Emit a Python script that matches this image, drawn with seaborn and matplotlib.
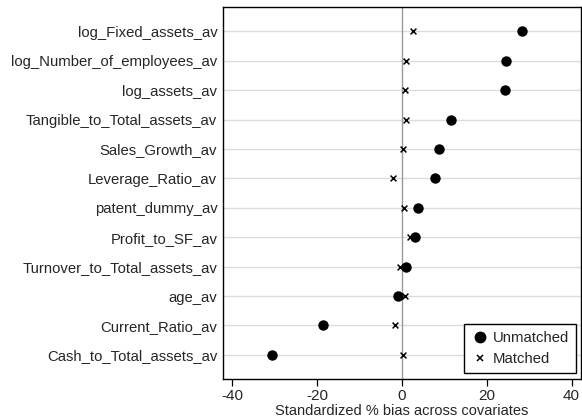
import pandas as pd
import matplotlib
matplotlib.use("Agg")
import matplotlib.pyplot as plt
from matplotlib.lines import Line2D
import seaborn as sns

# covariates, top to bottom
variables = ["log_Fixed_assets_av", "log_Number_of_employees_av", "log_assets_av",
             "Tangible_to_Total_assets_av", "Sales_Growth_av", "Leverage_Ratio_av",
             "patent_dummy_av", "Profit_to_SF_av", "Turnover_to_Total_assets_av",
             "age_av", "Current_Ratio_av", "Cash_to_Total_assets_av"]

# standardized % bias
unmatched = [28.3, 24.5, 24.2, 11.6, 8.8, 7.8, 3.8, 3.1, 1.0, -0.8, -18.7, -30.7]
matched = [2.7, 0.9, 0.8, 0.9, 0.2, -2.1, 0.5, 1.9, -0.5, 0.7, -1.6, 0.2]

xticks = [-40, -20, 0, 20, 40]

df = pd.DataFrame({"variable": variables, "Unmatched": unmatched, "Matched": matched})

sns.set_style("white")
plt.rcParams["font.family"] = ["Liberation Sans", "DejaVu Sans"]

fig = plt.figure(figsize=(5.82, 4.17), dpi=100)
ax = fig.add_axes([0.383, 0.091, 0.615, 0.892])

# grid lines for each covariate
for i in range(len(variables)):
    ax.axhline(i, color="#dcdcdc", lw=1.0, zorder=0)
ax.axvline(0, color="#9a9a9a", lw=1.0, zorder=1)

sns.stripplot(data=df, x="Unmatched", y="variable", jitter=False, color="black",
              marker="o", size=7.5, linewidth=0, ax=ax, zorder=3)
sns.stripplot(data=df, x="Matched", y="variable", jitter=False, color="black",
              marker="x", size=4.2, linewidth=1.1, ax=ax, zorder=4)

ax.set_xlim(-42.2, 42.2)
ax.set_ylim(11.82, -0.82)
ax.set_xticks(xticks)
ax.set_xticklabels([str(t) for t in xticks], fontsize=11)
ax.tick_params(axis="x", direction="out", length=5, width=0.9, color="black", pad=2, bottom=True)
ax.tick_params(axis="y", length=0, labelsize=10.7, pad=4)
ax.set_ylabel("")
ax.set_xlabel("Standardized % bias across covariates", fontsize=10.5, labelpad=1)

for s in ax.spines.values():
    s.set_color("black")
    s.set_linewidth(1.0)

handles = [Line2D([], [], marker="o", color="black", ls="none", markersize=7.5),
           Line2D([], [], marker="x", color="black", ls="none", markersize=4.5, mew=1.1)]
leg = ax.legend(handles, ["Unmatched", "Matched"], loc="lower right", fontsize=10.7,
                frameon=True, fancybox=False, edgecolor="black", framealpha=1,
                handletextpad=0.3, borderpad=0.45, handlelength=1.2,
                borderaxespad=0, bbox_to_anchor=(0.986, 0.016))
leg.get_frame().set_linewidth(1.0)

fig.savefig("out.png", dpi=100)
